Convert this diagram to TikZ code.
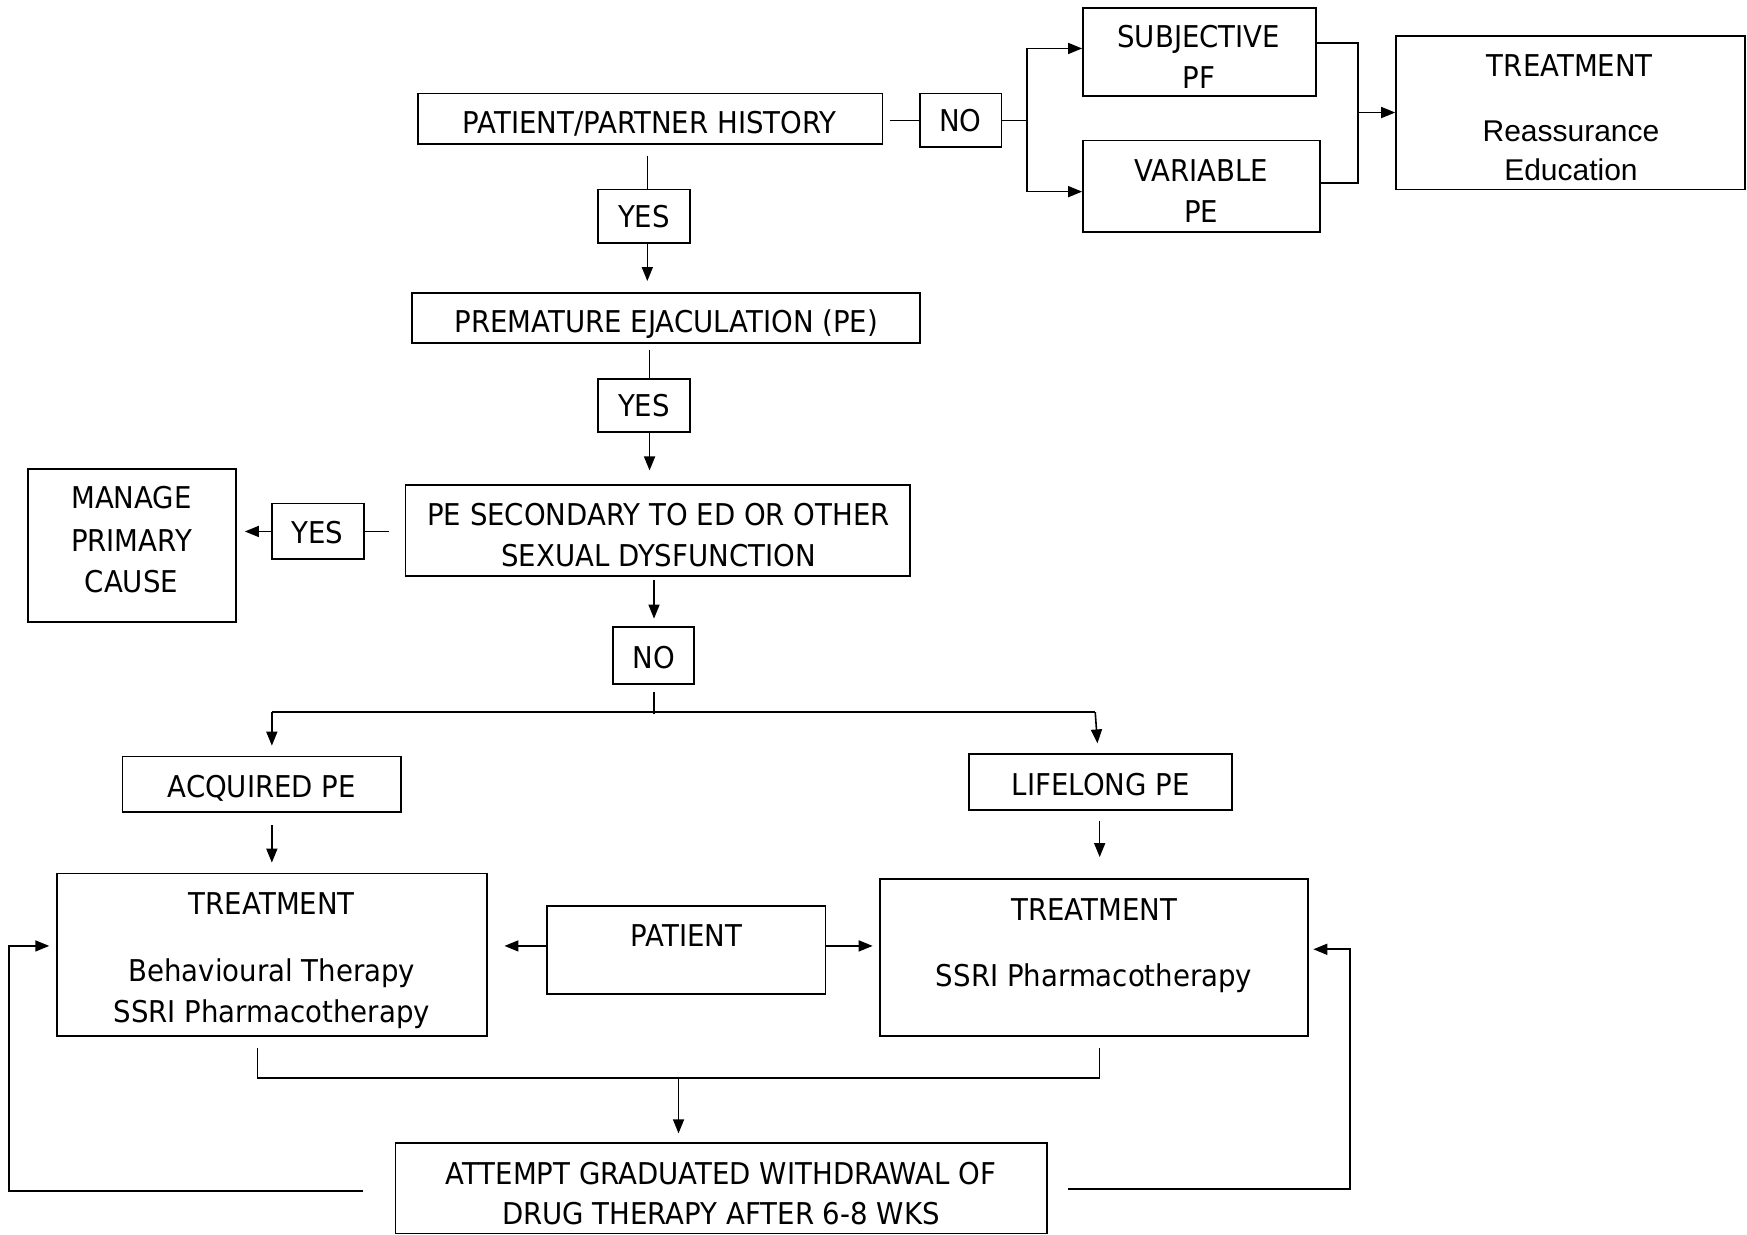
\documentclass[tikz,border=0pt]{standalone}
\usepackage{fontspec}
\setmainfont{DejaVu Sans}[FakeStretch=0.92]
\newfontfamily\arialf{Liberation Sans}
\usetikzlibrary{arrows.meta,calc,fit}
\newcommand\bx[5]{\node[box, fit={(#2,#3) (#4,#5)}] (#1) {};}
\begin{document}
\begin{tikzpicture}[x=1.1142pt,y=-1.1142pt,
 box/.style={draw,line width=1.7pt,inner sep=0pt},
 lbl/.style={inner sep=0pt,text height=21.9pt,text depth=0pt,font=\fontsize{30pt}{36pt}\selectfont},
 albl/.style={lbl,font=\arialf\fontsize{30pt}{36pt}\selectfont,text height=21.5pt},
 ln/.style={line width=1.6pt},
 arr/.style={ln,-{Triangle[length=14pt,width=11pt]}}]
\useasboundingbox[fill=white] (0,0) rectangle (1568,1108);
% boxes
\bx{pph}{375}{84}{792}{129}
\bx{no1}{826}{84}{899}{132}
\bx{subj}{972}{7}{1181}{86}
\bx{var}{972}{126}{1185}{208}
\bx{tr1}{1253}{32}{1566}{170}
\bx{yes1}{537}{170}{619}{218}
\bx{pe}{370}{263}{826}{308}
\bx{yes2}{537}{340}{619}{388}
\bx{pesec}{364}{435}{817}{517}
\bx{yes3}{244}{452}{327}{502}
\bx{manage}{25}{421}{212}{558}
\bx{no2}{550}{563}{623}{614}
\bx{acq}{110}{679}{360}{729}
\bx{life}{870}{677}{1106}{727}
\bx{trL}{51}{784}{437}{930}
\bx{patient}{491}{813}{741}{892}
\bx{trR}{790}{789}{1174}{930}
\bx{wd}{355}{1026}{940}{1107}
% texts
\node[lbl] (t-pph) at (583,110) {PATIENT/PARTNER HISTORY};
\node[lbl] (t-no1) at (862,108) {NO};
\node[lbl] (t-subj1) at (1076,33) {SUBJECTIVE};
\node[lbl] (t-subj2) at (1076,70) {PF};
\node[lbl] (t-var1) at (1078,153) {VARIABLE};
\node[lbl] (t-var2) at (1078,190) {PE};
\node[lbl] (t-tr1a) at (1409,59) {TREATMENT};
\node[albl] (t-tr1b) at (1410,117) {Reassurance};
\node[albl] (t-tr1c) at (1410,152) {Education};
\node[lbl] (t-yes1) at (578,194) {YES};
\node[lbl] (t-pe) at (598,289) {PREMATURE EJACULATION (PE)};
\node[lbl] (t-yes2) at (578,364) {YES};
\node[lbl] (t-pesec1) at (591,462) {PE SECONDARY TO ED OR OTHER};
\node[lbl] (t-pesec2) at (591,499) {SEXUAL DYSFUNCTION};
\node[lbl] (t-yes3) at (285,478) {YES};
\node[lbl] (t-man1) at (118,447) {MANAGE};
\node[lbl] (t-man2) at (118,485) {PRIMARY};
\node[lbl] (t-man3) at (118,522) {CAUSE};
\node[lbl] (t-no2) at (587,590) {NO};
\node[lbl] (t-acq) at (235,706) {ACQUIRED PE};
\node[lbl] (t-life) at (988,704) {LIFELONG PE};
\node[lbl] (t-trL1) at (244,811) {TREATMENT};
\node[lbl] (t-trL2) at (244,871) {Behavioural Therapy};
\node[lbl] (t-trL3) at (244,908) {SSRI Pharmacotherapy};
\node[lbl] (t-pat) at (616,840) {PATIENT};
\node[lbl] (t-trR1) at (982,816) {TREATMENT};
\node[lbl] (t-trR2) at (982,876) {SSRI Pharmacotherapy};
\node[lbl] (t-wd1) at (647,1053) {ATTEMPT GRADUATED WITHDRAWAL OF};
\node[lbl] (t-wd2) at (647,1089) {DRUG THERAPY AFTER 6-8 WKS};
% connectors
\draw[ln] ($(pph.east)+(6,1.5)$) -- (no1.west);
\draw[ln] (no1.east) -- ++(22,0) coordinate (k1);
\draw[ln] ($(k1 |- subj.west)+(0,-3)$) -- ($(k1 |- var.west)+(0,5)$);
\draw[arr] ($(k1 |- subj.west)+(0,-3)$) -- ($(subj.west)+(0,-3)$);
\draw[arr] ($(k1 |- var.west)+(0,5)$) -- ($(var.west)+(0,5)$);
\draw[ln] ($(subj.east)+(0,-8)$) -- ++(37,0) coordinate (k2) |- ($(var.east)+(-2,-3)$);
\draw[arr] (k2 |- tr1.west) -- (tr1.west);
\draw[ln] ($(pph.south)+(-2.5,10)$) -- ($(yes1.north)+(3,0)$);
\draw[arr] ($(yes1.south)+(3,0)$) -- ($(pe.north -| yes1.south)+(3,-10)$);
\draw[ln] ($(pe.south)+(-15,5)$) -- ($(yes2.north)+(5,0)$);
\draw[arr] ($(yes2.south)+(5,0)$) -- ($(pesec.north -| yes2.south)+(5,-12)$);
\draw[ln] ($(pesec.west)+(-14,1)$) -- (yes3.east);
\draw[arr] (yes3.west) -- ($(manage.east |- yes3.west)+(7,0)$);
\draw[arr] ($(pesec.south)+(-3.5,3)$) -- ($(no2.north)+(0.5,-7)$);
\draw[ln] ($(no2.south)+(0.5,6)$) -- ($(no2.south)+(0.5,26)$) coordinate (k3);
\draw[ln] ($(acq.north)+(9,-39)$) -- ($(life.north)+(-5,-37)$);
\draw[arr] ($(acq.north)+(9,-39)$) -- ($(acq.north)+(9,-9)$);
\draw[arr] ($(life.north)+(-5,-37)$) -- ($(life.north)+(-3,-9)$);
\draw[arr] ($(acq.south)+(9,11)$) -- ($(trL.north)+(0,-9)$);
\draw[arr] ($(life.south)+(-1,9)$) -- ($(trR.north)+(5,-19)$);
\draw[arr] ($(patient.west)+(0,-3.5)$) -- ($(trL.east |- patient.west)+(15,-3.5)$);
\draw[arr] ($(patient.east)+(0,-3.5)$) -- ($(trR.west |- patient.east)+(-6,-3.5)$);
\draw[ln] ($(trL.south)+(-13,10)$) -- ++(0,27) -| ($(trR.south)+(5,10)$);
\draw[arr] ($(wd.north)+(-38.5,-59)$) -- ($(wd.north)+(-38.5,-8)$);
\draw[arr] ($(wd.west)+(-28,2.5)$) -| ($(trL.west)+(-42,-8)$) -- ($(trL.west)+(-6,-8)$);
\draw[arr] ($(wd.east)+(18,0.5)$) -| ($(trR.east)+(37,-7.5)$) -- ($(trR.east)+(4,-7.5)$);
\end{tikzpicture}
\end{document}
